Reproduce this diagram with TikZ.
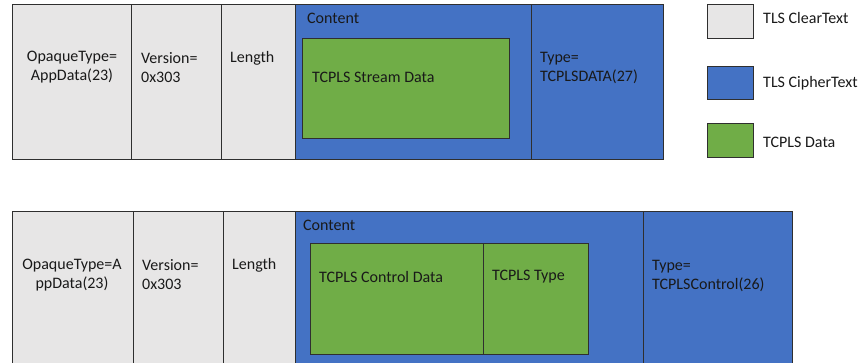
\documentclass[tikz,border=0pt]{standalone}
\usepackage{fontspec}
\setmainfont{Carlito}
\definecolor{clearfill}{HTML}{E7E6E6}
\definecolor{cipherfill}{HTML}{4472C4}
\definecolor{datafill}{HTML}{70AD47}
\definecolor{edge}{HTML}{2F2F2F}
\tikzset{
  clear/.style={fill=clearfill, draw=edge, line width=0.8pt},
  cipher/.style={fill=cipherfill, draw=edge, line width=0.8pt},
  tdata/.style={fill=datafill, draw=edge, line width=0.9pt},
  lbl/.style={inner sep=0pt, font=\fontsize{16}{19}\selectfont, text=black!90},
  lblw/.style={lbl, anchor=west, align=left},
  lblc/.style={lbl, anchor=center, align=center},
}
\begin{document}
\begin{tikzpicture}[x=1pt, y=-1pt]
\useasboundingbox (0,0) rectangle (862,363);

% ---- TCPLS stream record ----
\path[clear] (12,4) rectangle (131,159);
\path[clear] (131,4) rectangle (221,159);
\path[clear] (221,4) rectangle (295,159);
\path[cipher] (295,4) rectangle (531,159);
\path[cipher] (531,4) rectangle (663,159);
\path[tdata] (302,38) rectangle (509,138);

\node[lblc] (t1) at (72,67.5) {OpaqueType=\\AppData(23)};
\node[lblw] (v1) at (141,67.5) {Version=\\0x303};
\node[lblw] (l1) at (230,58) {Length};
\node[lblw] (c1) at (307,18) {Content};
\node[lblw] (s1) at (312,77) {TCPLS Stream Data};
\node[lblw] (y1) at (540,68) {Type=\\TCPLSDATA(27)};

% ---- TCPLS control record ----
\path[clear] (12,211) rectangle (133,380);
\path[clear] (133,211) rectangle (223,380);
\path[clear] (223,211) rectangle (295,380);
\path[cipher] (295,211) rectangle (643,380);
\path[cipher] (643,211) rectangle (792,380);
\path[tdata] (310,243) rectangle (483,354);
\path[tdata] (483,243) rectangle (588,354);

\node[lblc] (t2) at (72,275) {OpaqueType=A\\ppData(23)};
\node[lblw] (v2) at (142,275) {Version=\\0x303};
\node[lblw] (l2) at (232,265) {Length};
\node[lblw] (c2) at (303,225) {Content};
\node[lblw] (s2) at (319,277) {TCPLS Control Data};
\node[lblw] (p2) at (492,277) {TCPLS Type};
\node[lblw] (y2) at (652,275.5) {Type=\\TCPLSControl(26)};

% ---- legend ----
\path[clear] (707,4) rectangle (753,38);
\path[cipher] (707,66) rectangle (753,99);
\path[tdata] (707,123) rectangle (753,157);
\node[lblw] (k1) at (763,18) {TLS ClearText};
\node[lblw] (k2) at (763,83) {TLS CipherText};
\node[lblw] (k3) at (763,142) {TCPLS Data};
\end{tikzpicture}
\end{document}
